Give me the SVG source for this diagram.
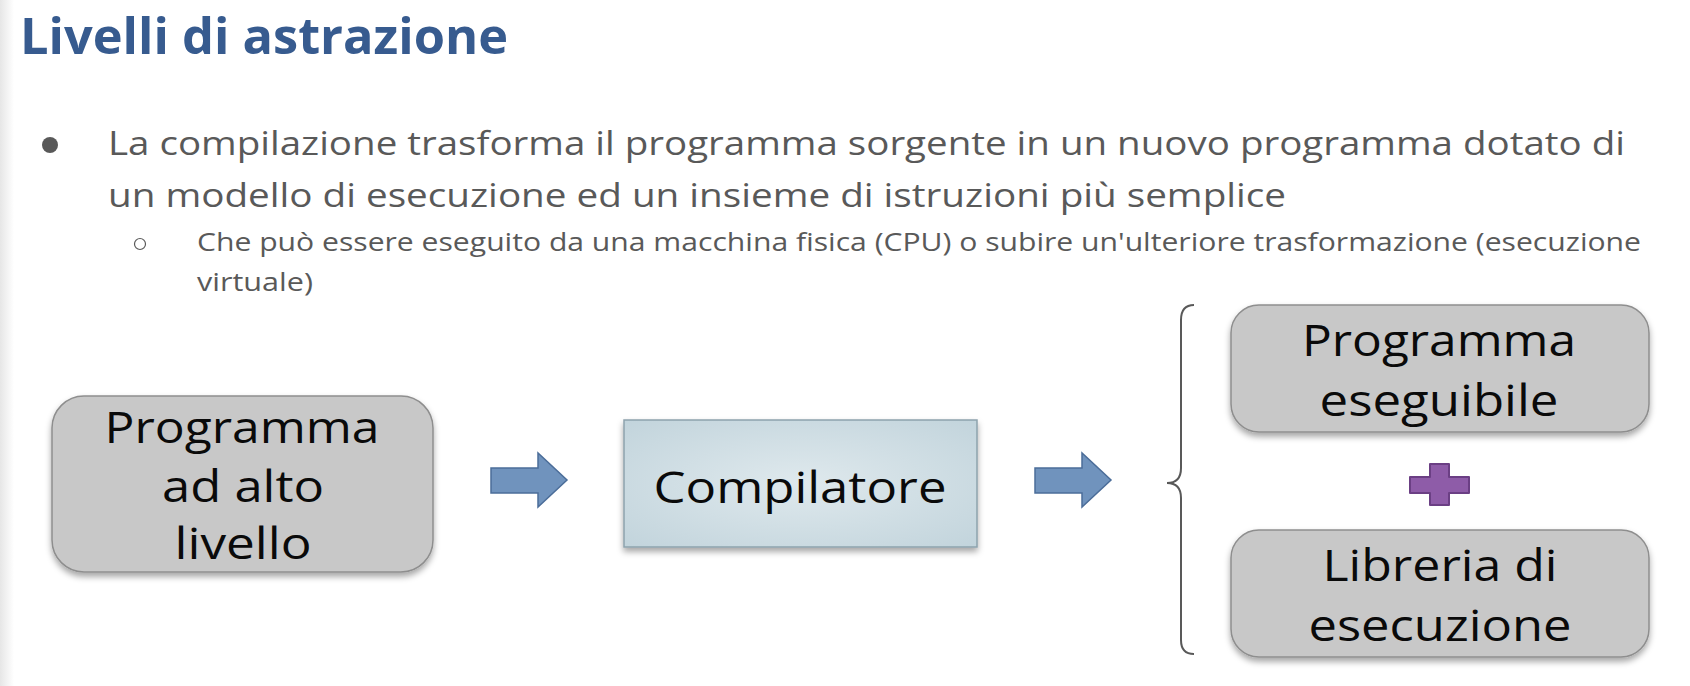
<svg xmlns="http://www.w3.org/2000/svg" width="1690" height="686" viewBox="0 0 1690 686">
  <defs>
    <style>
      .title { font-family: "Open Sans", "Liberation Sans", sans-serif; font-weight: 700; fill: #375b8f; }
      .body { font-family: "Open Sans", "Liberation Sans", sans-serif; fill: #595959; }
      .box { fill: #c8c8c8; stroke: #8e8e8e; stroke-width: 1.5; }
      .label { font-family: "Open Sans", "Liberation Sans", sans-serif; fill: #0a0a0a; font-size: 43px; text-anchor: middle; }
      .flow { fill: #7093bd; stroke: #4b6d99; stroke-width: 1.5; }
    </style>
    <linearGradient id="edge" x1="0" y1="0" x2="1" y2="0">
      <stop offset="0" stop-color="#e6e6e6"/>
      <stop offset="1" stop-color="#ffffff"/>
    </linearGradient>
    <radialGradient id="compGrad" cx="0.5" cy="0.5" r="0.7">
      <stop offset="0" stop-color="#dfe9ed"/>
      <stop offset="1" stop-color="#c2d4dc"/>
    </radialGradient>
    <filter id="shadow" x="-10%" y="-10%" width="120%" height="130%">
      <feDropShadow dx="0" dy="4" stdDeviation="3" flood-color="#000" flood-opacity="0.35"/>
    </filter>
  </defs>

  <rect x="0" y="0" width="1690" height="686" fill="#ffffff"/>
  <rect x="0" y="0" width="14" height="686" fill="url(#edge)"/>

  <!-- heading -->
  <text class="title" x="20" y="54" font-size="50" textLength="488" lengthAdjust="spacingAndGlyphs">Livelli di astrazione</text>

  <!-- bullet list -->
  <circle cx="50" cy="145" r="8" fill="#595959"/>
  <text class="body" x="108" y="155" font-size="33" textLength="1517" lengthAdjust="spacingAndGlyphs">La compilazione trasforma il programma sorgente in un nuovo programma dotato di</text>
  <text class="body" x="108" y="207" font-size="33" textLength="1178" lengthAdjust="spacingAndGlyphs">un modello di esecuzione ed un insieme di istruzioni più semplice</text>
  <circle cx="140" cy="244" r="5.5" fill="none" stroke="#595959" stroke-width="1.2"/>
  <text class="body" x="197" y="251" font-size="25" textLength="1444" lengthAdjust="spacingAndGlyphs">Che può essere eseguito da una macchina fisica (CPU) o subire un'ulteriore trasformazione (esecuzione</text>
  <text class="body" x="197" y="291" font-size="25" textLength="116" lengthAdjust="spacingAndGlyphs">virtuale)</text>

  <!-- source program -->
  <g id="source">
    <rect class="box" x="52" y="396" width="381" height="176" rx="32" filter="url(#shadow)"/>
    <text class="label" x="242" y="443" textLength="275" lengthAdjust="spacingAndGlyphs">Programma</text>
    <text class="label" x="243" y="502" textLength="162" lengthAdjust="spacingAndGlyphs">ad alto</text>
    <text class="label" x="243" y="559" textLength="137" lengthAdjust="spacingAndGlyphs">livello</text>
  </g>

  <!-- compiler -->
  <g id="compiler">
    <rect x="624" y="420" width="353" height="127" fill="url(#compGrad)" stroke="#8da3ad" stroke-width="1.5" filter="url(#shadow)"/>
    <text class="label" x="800" y="503" textLength="293" lengthAdjust="spacingAndGlyphs">Compilatore</text>
  </g>

  <!-- executable program -->
  <g id="executable">
    <rect class="box" x="1231" y="305" width="418" height="127" rx="28" filter="url(#shadow)"/>
    <text class="label" x="1439" y="356" textLength="274" lengthAdjust="spacingAndGlyphs">Programma</text>
    <text class="label" x="1439" y="416" textLength="239" lengthAdjust="spacingAndGlyphs">eseguibile</text>
  </g>

  <!-- runtime library -->
  <g id="runtime">
    <rect class="box" x="1231" y="530" width="418" height="127" rx="28" filter="url(#shadow)"/>
    <text class="label" x="1440" y="581" textLength="235" lengthAdjust="spacingAndGlyphs">Libreria di</text>
    <text class="label" x="1440" y="641" textLength="263" lengthAdjust="spacingAndGlyphs">esecuzione</text>
  </g>

  <!-- plus sign -->
  <g id="plus">
    <path d="M1430,464 H1449 V477 H1469 V493 H1449 V505 H1430 V493 H1410 V477 H1430 Z" fill="#8e5ca8" stroke="#6b3f84" stroke-width="2" stroke-linejoin="round"/>
  </g>

  <!-- connectors -->
  <g id="connectors">
    <path class="flow" d="M491,468 H538 V453 L567,480 L538,507 V493 H491 Z"/>
    <path class="flow" d="M1035,468 H1082 V453 L1111,480 L1082,507 V493 H1035 Z"/>
    <path d="M1194,305 Q1181,305 1181,320 V468 Q1181,483 1167,483 Q1181,483 1181,498 V640 Q1181,654 1194,654" fill="none" stroke="#595959" stroke-width="2"/>
  </g>
</svg>
